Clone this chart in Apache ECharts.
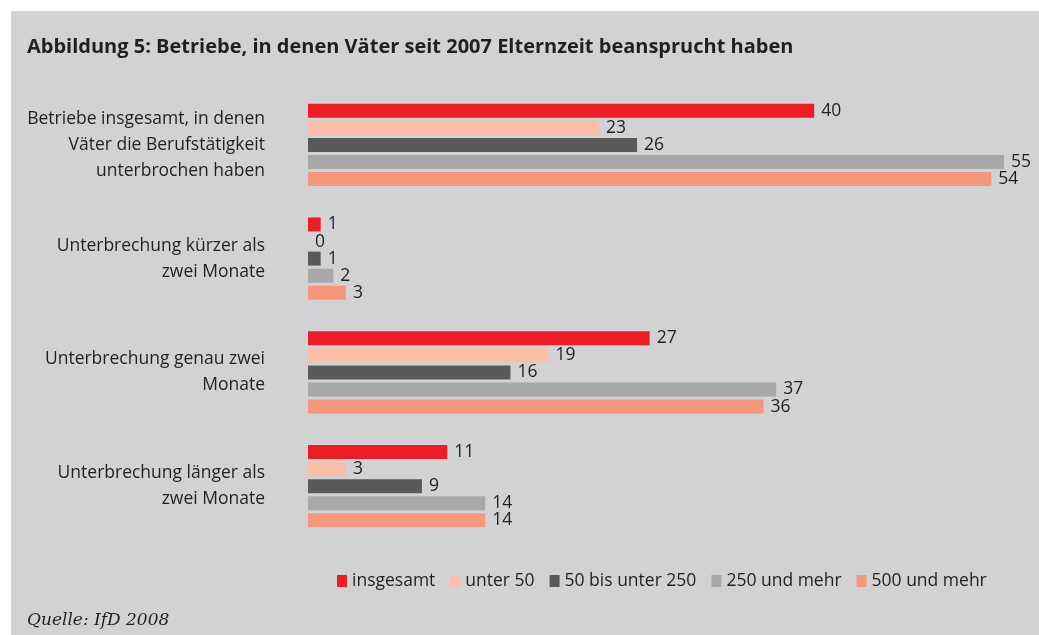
<!DOCTYPE html>
<html>
<head>
<meta charset="utf-8">
<script src="https://cdn.jsdelivr.net/npm/echarts@6/dist/echarts.min.js"></script>
<style>
  html, body { margin: 0; padding: 0; background: #ffffff; }
  #chart { width: 1039px; height: 635px; }
</style>
</head>
<body>
<div id="chart"></div>
<script>
// Kategorien (von oben nach unten)
const categories = [
  'Betriebe insgesamt, in denen\nVäter die Berufstätigkeit\nunterbrochen haben',
  'Unterbrechung kürzer als\nzwei Monate',
  'Unterbrechung genau zwei\nMonate',
  'Unterbrechung länger als\nzwei Monate'
]

const seriesNames = ['insgesamt', 'unter 50', '50 bis unter 250', '250 und mehr', '500 und mehr']

const insgesamt = [40, 1, 27, 11]
const unter50 = [23, 0, 19, 3]
const bis250 = [26, 1, 16, 9]
const ab250 = [55, 2, 37, 14]
const ab500 = [54, 3, 36, 14]

const colors = ['#ee1c25', '#f9bfa7', '#58595b', '#a7a8aa', '#f7977a']
const values = [insgesamt, unter50, bis250, ab250, ab500]

const font = '"Open Sans", "Noto Sans", sans-serif'
const chart = echarts.init(document.getElementById('chart'), null, { renderer: 'canvas' })

chart.setOption({
  animation: false,
  textStyle: { fontFamily: font },
  graphic: [
    { type: 'rect', left: 11, top: 11, shape: { width: 1028, height: 624 }, style: { fill: '#d1d2d4' }, z: -10, silent: true }
  ],
  title: [
    {
      text: 'Abbildung 5: Betriebe, in denen Väter seit 2007 Elternzeit beansprucht haben',
      left: 27, top: 37, padding: 0,
      textStyle: { fontFamily: font, fontSize: 20, fontWeight: 'bold', color: '#231f20' }
    },
    {
      text: 'Quelle: IfD 2008',
      left: 27, top: 612, padding: 0,
      textStyle: { fontFamily: '"DejaVu Serif", "Liberation Serif", serif', fontSize: 17, fontStyle: 'italic', fontWeight: 'normal', color: '#231f20' }
    }
  ],
  legend: {
    left: 332, top: 567,
    itemWidth: 10, itemHeight: 12, itemGap: 15,
    icon: 'rect',
    textStyle: { fontFamily: font, fontSize: 17.5, color: '#231f20' },
    data: seriesNames
  },
  grid: { left: 308, top: 88, width: 696, height: 455 },
  xAxis: {
    type: 'value', min: 0, max: 55,
    show: false
  },
  yAxis: {
    type: 'category',
    inverse: true,
    data: categories,
    axisLine: { show: false },
    axisTick: { show: false },
    axisLabel: {
      margin: 43, align: 'right',
      fontFamily: font, fontSize: 17.5, lineHeight: 26, color: '#231f20'
    }
  },
  series: values.map((v, i) => ({
    name: seriesNames[i],
    type: 'bar',
    data: v,
    barWidth: 14,
    barGap: '22%',
    itemStyle: { color: colors[i] },
    label: {
      show: true, position: 'right', distance: 7,
      fontFamily: font, fontSize: 17.5, color: '#231f20'
    }
  }))
})
</script>
</body>
</html>
